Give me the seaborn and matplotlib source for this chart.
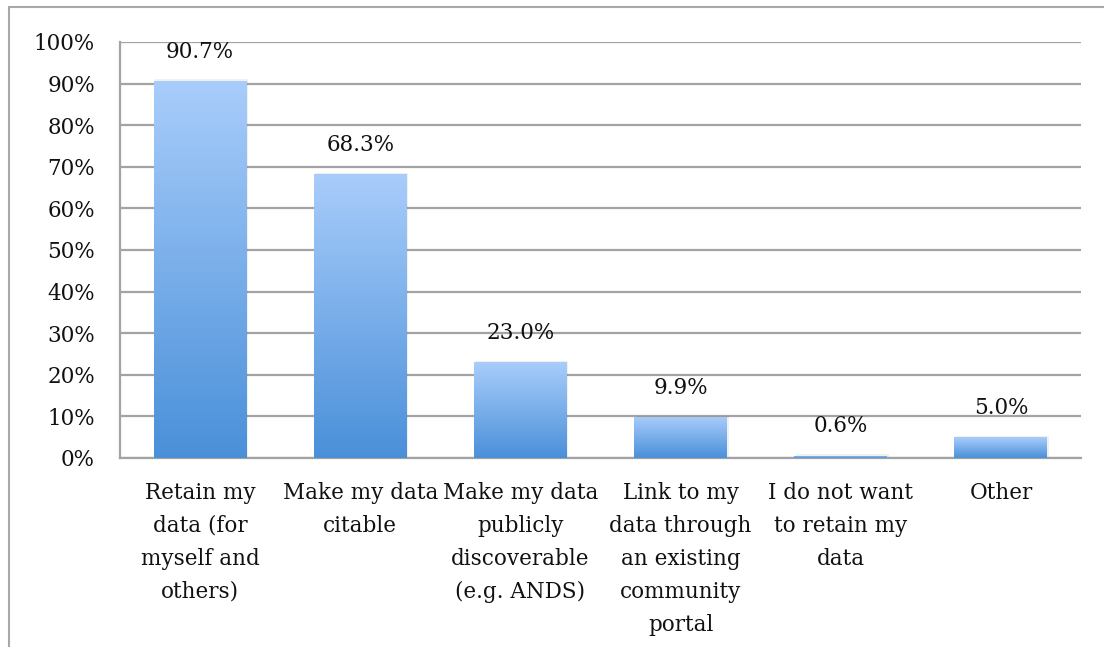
import numpy as np
import pandas as pd
import seaborn as sns
import matplotlib.pyplot as plt
from matplotlib.lines import Line2D
from matplotlib.colors import LinearSegmentedColormap

categories = [
    "Retain my\ndata (for\nmyself and\nothers)",
    "Make my data\ncitable",
    "Make my data\npublicly\ndiscoverable\n(e.g. ANDS)",
    "Link to my\ndata through\nan existing\ncommunity\nportal",
    "I do not want\nto retain my\ndata",
    "Other",
]
values = [90.7, 68.3, 23.0, 9.9, 0.6, 5.0]
y_ticks = list(range(0, 101, 10))

sns.set_style("white")
plt.rcParams['font.family'] = ['DejaVu Serif']
FS = 15.5

df = pd.DataFrame({'Category': categories, 'Value': values})

fig = plt.figure(figsize=(11.04, 6.47), dpi=100)
ax = fig.add_axes([120 / 1104, 1 - 458 / 647, (1081 - 120) / 1104, (458 - 42) / 647])

sns.barplot(data=df, x='Category', y='Value', color='#7fb2ee', width=0.58, ax=ax, zorder=3)

# gradient fill for bars (light top, darker bottom)
cmap = LinearSegmentedColormap.from_list('bar', ['#4a90d9', '#a9cdfb'])
grad = np.linspace(0, 1, 256).reshape(-1, 1)
for p in ax.patches:
    x0, y0 = p.get_x(), p.get_y()
    w, h = p.get_width(), p.get_height()
    p.set_facecolor('none')
    p.set_edgecolor('none')
    # soft shadow
    ax.add_patch(plt.Rectangle((x0 + 0.01, y0), w, h + 0.3, facecolor='#000000',
                               alpha=0.06, edgecolor='none', zorder=2))
    im = ax.imshow(grad, cmap=cmap, aspect='auto', origin='lower',
                   extent=(x0, x0 + w, y0, y0 + h), zorder=3)
    im.set_clip_path(p)

for i, v in enumerate(values):
    ax.annotate(f"{v:.1f}%", (i, v), xytext=(0, 13), textcoords='offset points',
                ha='center', va='bottom', fontsize=FS, color='#111111')

ax.set_xlim(-0.5, len(categories) - 0.5)
ax.set_ylim(0, 100)
ax.set_yticks(y_ticks)
ax.set_yticklabels([f"{t}%" for t in y_ticks], fontsize=FS, color='#111111')
ax.tick_params(axis='y', length=0, pad=18)
ax.tick_params(axis='x', length=0, pad=17)
for lab in ax.get_xticklabels():
    lab.set_fontsize(FS)
    lab.set_color('#111111')
    lab.set_linespacing(1.65)
    lab.set_ha('center')
    lab.set_va('top')
ax.yaxis.grid(True, color='#a3a3a3', linewidth=1.6, zorder=0)
ax.set_axisbelow(True)
ax.set_xlabel('')
ax.set_ylabel('')
for s in ['top', 'right']:
    ax.spines[s].set_visible(False)
for s in ['left', 'bottom']:
    ax.spines[s].set_color('#a3a3a3')
    ax.spines[s].set_linewidth(1.6)

# outer chart frame
fig.add_artist(Line2D([9 / 1104, 1], [1 - 7 / 647, 1 - 7 / 647], color='#a8a8a8',
                      linewidth=1.5, transform=fig.transFigure))
fig.add_artist(Line2D([9 / 1104, 9 / 1104], [0, 1 - 7 / 647], color='#a8a8a8',
                      linewidth=1.5, transform=fig.transFigure))

fig.savefig('out.png', dpi=100)
